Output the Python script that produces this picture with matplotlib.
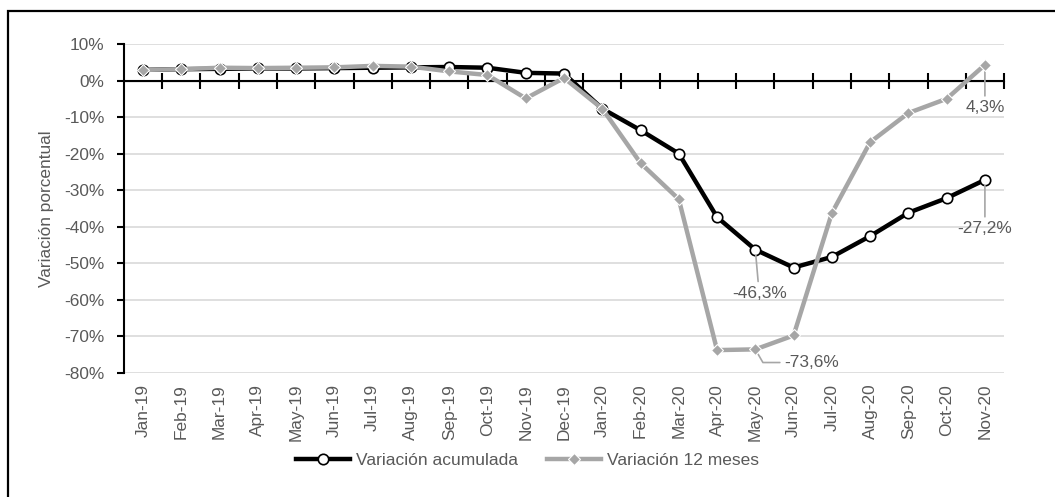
import matplotlib

matplotlib.use("Agg")
import matplotlib.pyplot as plt
from matplotlib.patches import Rectangle
from matplotlib.ticker import FuncFormatter, MultipleLocator

plt.rcParams["font.family"] = ["Liberation Sans Narrow", "Liberation Sans", "DejaVu Sans"]

months = [
    "Jan-19", "Feb-19", "Mar-19", "Apr-19", "May-19", "Jun-19", "Jul-19", "Aug-19",
    "Sep-19", "Oct-19", "Nov-19", "Dec-19", "Jan-20", "Feb-20", "Mar-20", "Apr-20",
    "May-20", "Jun-20", "Jul-20", "Aug-20", "Sep-20", "Oct-20", "Nov-20",
]
var_acumulada = [
    2.9, 3.1, 3.2, 3.3, 3.3, 3.4, 3.5, 3.6, 3.7, 3.5, 2.1, 1.9,
    -7.7, -13.6, -20.0, -37.4, -46.3, -51.2, -48.3, -42.6, -36.2, -32.2, -27.2,
]
var_12_meses = [
    2.9, 3.1, 3.5, 3.4, 3.5, 3.6, 4.0, 3.8, 2.5, 1.5, -4.9, 0.7,
    -7.7, -22.6, -32.5, -73.8, -73.6, -69.8, -36.3, -16.9, -8.9, -5.0, 4.3,
]

BLACK = "#000000"
GREY = "#a6a6a6"
TEXT = "#595959"
GRID = "#d9d9d9"
FS = 12.4

fig = plt.figure(figsize=(10.55, 4.97), dpi=100)
ax = fig.add_axes([0.1175, 0.250, 0.8342, 0.6615])

# chart frame around the whole figure area
fig.patches.append(
    Rectangle((8 / 1055, -0.05), 1.2, 0.05 + 1 - 11 / 497, transform=fig.transFigure,
              fill=False, edgecolor="black", linewidth=1.6)
)

x = list(range(len(months)))
ax.plot(x, var_acumulada, color=BLACK, lw=3.2, marker="o", ms=7.5,
        markerfacecolor="white", markeredgecolor=BLACK, markeredgewidth=1.2,
        label="Variación acumulada", zorder=3)
ax.plot(x, var_12_meses, color=GREY, lw=3.2, marker="D", ms=6.5,
        markerfacecolor=GREY, markeredgecolor="white", markeredgewidth=0.8,
        label="Variación 12 meses", zorder=4)

ax.set_xlim(-0.5, len(months) - 0.5)
ax.set_ylim(-80, 10)
ax.yaxis.set_major_locator(MultipleLocator(10))
ax.yaxis.set_major_formatter(FuncFormatter(lambda v, _: f"{v:.0f}%"))
ax.grid(axis="y", color=GRID, lw=1.2, zorder=0)
ax.set_axisbelow(True)

for side in ("top", "right", "bottom"):
    ax.spines[side].set_visible(False)
ax.spines["left"].set_linewidth(1.5)
ax.tick_params(axis="y", direction="out", length=5, width=1.5, colors="black",
               labelcolor=TEXT, labelsize=FS, pad=9)

ax.set_xticks(x)
ax.set_xticklabels(months, rotation=90)
ax.tick_params(axis="x", length=0, labelcolor=TEXT, labelsize=FS, pad=8)

# category axis crossing at zero, with ticks between categories
ax.axhline(0, color=BLACK, lw=1.5, zorder=2)
zero_axis = ax.secondary_xaxis(80 / 90)
zero_axis.set_xticks([i + 0.5 for i in x])
zero_axis.set_xticklabels([])
zero_axis.tick_params(direction="inout", length=12, width=1.5)

ax.set_ylabel("Variación porcentual", color=TEXT, fontsize=FS, labelpad=7)

arrow = dict(arrowstyle="-", color=GREY, lw=1.2, shrinkA=1, shrinkB=4)
ax.annotate(f"{var_12_meses[-1]:.1f}%".replace(".", ","), xy=(x[-1], var_12_meses[-1]),
            xytext=(x[-1], -7.4), ha="center", va="center", color=TEXT, fontsize=FS,
            arrowprops=arrow)
ax.annotate(f"{var_acumulada[-1]:.1f}%".replace(".", ","), xy=(x[-1], var_acumulada[-1]),
            xytext=(x[-1], -40.5), ha="center", va="center", color=TEXT, fontsize=FS,
            arrowprops=arrow)
ax.annotate(f"{var_acumulada[16]:.1f}%".replace(".", ","), xy=(x[16], var_acumulada[16]),
            xytext=(x[16] + 0.1, -58.2), ha="center", va="center", color=TEXT, fontsize=FS,
            arrowprops=arrow)
ax.annotate(f"{var_12_meses[16]:.1f}%".replace(".", ","), xy=(x[16], var_12_meses[16]),
            xytext=(16.75, -77.2), ha="left", va="center", color=TEXT, fontsize=FS,
            arrowprops=dict(arrow, connectionstyle="angle,angleA=0,angleB=-60,rad=0"))

fig.legend(loc="center", bbox_to_anchor=(0.5, 0.074),
           ncol=2, frameon=False, fontsize=12.5, labelcolor=TEXT,
           handlelength=3.1, handletextpad=0.35, columnspacing=1.7)

fig.savefig("out.png", dpi=100)
